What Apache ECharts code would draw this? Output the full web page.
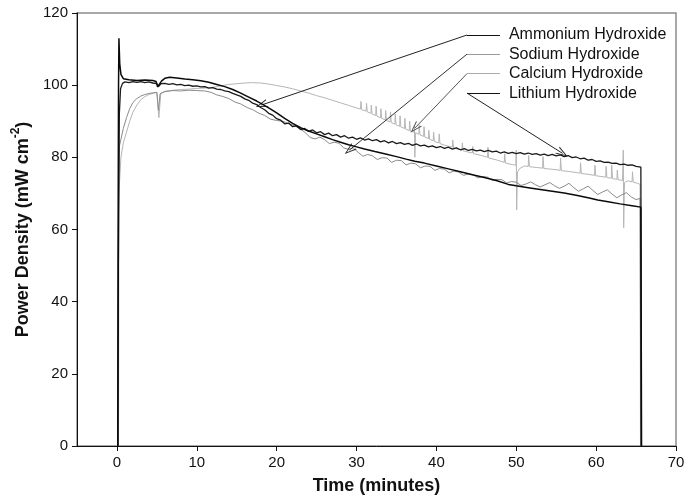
<!DOCTYPE html>
<html><head><meta charset="utf-8">
<script src="https://cdn.jsdelivr.net/npm/echarts@6/dist/echarts.min.js"></script>
<style>html,body{margin:0;padding:0;background:#fff}#c{width:691px;height:500px}</style>
</head><body><div id="c"></div>
<script>
// ---- data ([minutes, mW cm^-2]) ----
const xTicks = [0, 10, 20, 30, 40, 50, 60, 70];
const yTicks = [0, 20, 40, 60, 80, 100, 120];
const seriesNames = ['Ammonium Hydroxide', 'Sodium Hydroxide', 'Calcium Hydroxide', 'Lithium Hydroxide'];

const ammonium = [[0.10,0],[0.15,60],[0.2,100],[0.25,113],[0.35,106],[0.5,103],[0.8,101.8],[1.5,101.5],[2.5,101.3],[3.5,101.4],[4.5,101.3],[4.9,101],[5.1,99.5],[5.3,100.2],[5.6,101.2],[6.0,101.9],[6.6,102.2],[7.5,102],[8.5,101.7],[9.5,101.5],[10.5,101.2],[11.5,100.8],[12.5,100.2],[13.5,99.6],[14.5,98.8],[15.5,97.8],[16.5,96.7],[17.5,95.6],[18.3,94.6],[19.2,93.4],[20.0,92.3],[21.0,90.8],[22.0,89.4],[23.0,88.2],[24.0,87.3],[25.0,86.5],[26.0,85.7],[27.0,84.9],[28.0,84.2],[29.0,83.5],[30.0,82.9],[31.0,82.3],[32.3,81.6],[33.5,81],[35,80.2],[36.2,79.5],[37.3,78.9],[38.5,78.4],[40,77.6],[41.5,76.8],[43,76],[44.5,75.2],[46,74.4],[47.5,73.6],[49,72.5],[50,72.1],[51.5,71.6],[53,71.1],[54.5,70.6],[56,70.1],[57.5,69.5],[59,68.8],[60.2,68.2],[61.5,67.7],[63,67.1],[64.5,66.6],[65.6,66.2],[65.65,0]];

const lithium = [[0.12,0],[0.18,50],[0.3,92],[0.45,99],[0.7,100.5],[1,100.9],[1.5,100.7],[2,101],[2.5,100.8],[3,101],[3.5,100.7],[4,100.9],[4.5,100.6],[5,100.4],[5.2,99.6],[5.5,100.4],[6,100.5],[6.5,100.2],[7,100.4],[7.5,100.1],[8,100.2],[8.5,99.9],[9,100],[9.5,99.7],[10,99.8],[10.5,99.5],[11,99.6],[11.5,99.2],[12,99.3],[12.5,98.9],[13,98.8],[13.5,98.4],[14,98.2],[14.5,97.7],[15,97.3],[15.5,96.9],[16,96.2],[16.5,95.8],[17,95],[17.5,94.6],[18,93.8],[18.5,93.2],[19,92.2],[19.5,91.7],[20,90.7],[20.5,90.3],[21,89.3],[21.5,89.5],[22,88.5],[22.5,88.7],[23,87.7],[23.5,88],[24,87.2],[24.5,87.6],[25,86.8],[25.5,87.1],[26,86.3],[26.5,86.7],[27,86],[27.5,86.3],[28,85.6],[28.5,86],[29,85.3],[29.5,85.6],[30,85],[30.5,85.4],[31,84.8],[31.5,85.1],[32,84.6],[32.5,84.9],[33,84.3],[33.5,84.6],[34,84],[34.5,84.4],[35,83.8],[35.5,84.1],[36,83.6],[36.5,83.9],[37,83.3],[37.5,83.7],[38,83.2],[38.5,83.4],[39,82.9],[39.5,83.2],[40,82.7],[40.5,83],[41,82.5],[41.5,82.8],[42,82.3],[42.5,82.6],[43,82.1],[43.5,82.4],[44,81.9],[44.5,82.2],[45,81.8],[45.5,82],[46,81.6],[46.5,81.9],[47,81.5],[47.5,81.7],[48,81.2],[48.5,81.5],[49,81.1],[49.5,81.4],[50,81],[50.5,81.3],[51,80.9],[51.5,81.2],[52,80.8],[52.5,81],[53,80.6],[53.5,80.9],[54,80.5],[54.5,80.8],[55,80.4],[55.5,80.7],[56,80.2],[56.5,80.5],[57,79.9],[57.5,80.1],[58,79.6],[58.5,79.8],[59,79.2],[59.5,79.4],[60,78.9],[60.5,79],[61,78.6],[61.5,78.7],[62,78.3],[62.5,78.4],[63,78],[63.5,78.1],[64,77.8],[64.5,77.9],[65,77.5],[65.6,77.3],[65.7,0]];

const sodium = [[0.15,0],[0.2,70],[0.3,83],[0.5,85],[0.8,88],[1.2,91],[1.6,93.5],[2,95.2],[2.5,96.3],[3,97],[3.5,97.4],[4,97.7],[4.6,97.9],[5.0,98],[5.2,93],[5.4,97.6],[6,98.2],[7,98.5],[8,98.4],[9,98.6],[10,98.5],[11,98.4],[11.8,98],[12.5,97.3],[13.2,96.9],[14,96.3],[14.8,95.3],[15.5,94.8],[16.3,93.8],[17,93.2],[17.8,92.2],[18.5,91.6],[19.2,90.6],[20,90.2],[20.8,90],[21.5,89.3],[22.2,88.8],[23,87.8],[23.6,86.8],[24.2,85.5],[24.8,85.1],[25.4,85.6],[26,84.9],[26.6,83.8],[27.2,84.2],[27.8,83.9],[28.4,82.6],[29,82.2],[29.6,82.6],[30.2,81.4],[30.8,80.3],[31.4,80.8],[32,80.4],[32.6,79.4],[33.2,79.9],[33.8,79.8],[34.4,78.6],[35,79.2],[35.6,79.1],[36.2,77.9],[36.8,78.4],[37.4,78.2],[38,77.1],[38.6,77.6],[39.2,77.5],[39.8,76.4],[40.4,76.9],[41,76.7],[41.6,75.7],[42.2,76.2],[42.8,75.9],[43.4,75],[44,75.4],[44.6,75.2],[45.2,74.3],[45.8,74.7],[46.4,74.5],[47,73.6],[47.6,73.9],[48.2,73.8],[48.8,72.9],[49.4,73.3],[50,73.1],[50.6,72.2],[51.2,72.6],[51.8,73.2],[52.4,72.4],[53,71.8],[53.6,72.4],[54.2,73],[54.8,72.1],[55.4,71.4],[56,72],[56.6,72.8],[57.2,71.6],[57.8,70.6],[58.4,71.3],[59,72],[59.6,70.8],[60.2,69.7],[60.8,70.4],[61.4,71],[62,69.8],[62.6,68.8],[63.2,69.6],[63.8,70.2],[64.4,69],[65,68.3],[65.5,68.6],[65.6,0]];

const calcium = [[0.2,0],[0.25,65],[0.3,72],[0.5,80],[0.8,84],[1.2,87],[1.6,90],[2,92.5],[2.5,94.5],[3,96],[3.5,96.8],[4,97.4],[4.6,97.8],[5.0,98],[5.25,91],[5.5,97.8],[6,98.3],[7,98.6],[8,98.8],[9,98.9],[10,99.1],[11,99.2],[12,99.4],[13,99.8],[14,100.2],[15,100.4],[16,100.6],[17,100.7],[18,100.6],[19,100.3],[20,99.9],[21,99.5],[22,99],[23,98.4],[24,97.8],[25,97.1],[26,96.5],[27,95.8],[28,95.1],[29,94.4],[30,93.7],[30.5,93.4],[30.55,95.5],[30.65,93.2],[31.2,92.8],[31.25,95],[31.35,92.6],[31.8,92.2],[31.85,94.5],[31.95,92],[32.4,91.6],[32.45,94.2],[32.55,91.4],[33,91],[33.05,93.5],[33.15,90.8],[33.6,90.4],[33.65,93],[33.75,90.2],[34.2,89.8],[34.25,92.5],[34.35,89.6],[34.8,89.2],[34.85,92],[34.95,89],[35.4,88.6],[35.45,91.5],[35.55,88.4],[36,88],[36.05,90.8],[36.15,87.8],[36.6,87.4],[36.65,90],[36.75,87.2],[37.2,87],[37.25,88.8],[37.3,80],[37.4,86.8],[37.8,86.4],[37.85,89],[37.95,86.2],[38.4,85.8],[38.45,88.5],[38.55,85.6],[39,85.2],[39.05,87.5],[39.15,85],[39.6,84.6],[39.65,87],[39.75,84.4],[40.3,84],[40.35,86.5],[40.45,83.8],[41,83.4],[42,82.8],[42.05,84.8],[42.15,82.6],[43.2,82],[43.25,84],[43.35,81.8],[44.5,81.2],[44.55,83],[44.65,81],[45.5,80.6],[46.4,80],[46.45,82.8],[46.55,79.8],[47.5,79.3],[48.5,78.6],[48.55,81],[48.65,78.4],[49.5,78],[49.95,77.8],[50,82],[50.05,65.4],[50.15,76],[50.5,77],[51,77.6],[51.5,77.5],[51.55,80.5],[51.65,77.4],[52.5,77.2],[53.3,77],[53.35,80.2],[53.45,76.9],[54.5,76.7],[55.5,76.4],[55.55,79.8],[55.65,76.3],[56.5,76.1],[57.5,75.8],[58,75.6],[58.05,78.5],[58.15,75.5],[59,75.3],[59.8,75],[59.85,77.8],[59.95,74.9],[60.6,74.7],[61.2,74.5],[61.25,77.5],[61.35,74.4],[61.9,74.2],[61.95,77.8],[62.05,74.1],[62.6,73.9],[62.65,76.5],[62.75,73.8],[63.3,73.6],[63.4,82],[63.45,60.5],[63.55,73],[64,73.5],[64.5,73.2],[64.55,76],[64.65,73.1],[65.2,72.8],[65.5,72.5],[65.55,0]];

// label anchor (start of the short label rule) and arrow targets, in data units
const labelStartX = 43.83, labelEndX = 47.95;
const labelY = [113.9, 108.6, 103.2, 97.8];
const arrowTargets = [[18.1, 94.5], [29.1, 82.0], [37.3, 88.1], [55.8, 81.1]];
// -----------------------------------------------------------

const FONT = '"Liberation Sans", Arial, Helvetica, sans-serif';
const openArrow = 'path://M5,0 L10,12 L8.7,12 L5,2.8 L1.3,12 L0,12 Z';
const ruleColors = ['#111', '#9a9a9a', '#ababab', '#111'];
const arrowColors = ['#222', '#333', '#555', '#222'];

function annot(i) {
  return {
    silent: true, animation: false,
    symbol: ['none', 'none'],
    data: [
      [ {coord: [labelStartX, labelY[i]], lineStyle: {color: ruleColors[i], width: 1, type: 'solid'}},
        {coord: [labelEndX, labelY[i]],
         label: {show: true, position: 'end', distance: 9, formatter: seriesNames[i],
                 color: '#111', fontSize: 16, fontFamily: FONT}} ],
      [ {coord: [labelStartX, labelY[i]], lineStyle: {color: arrowColors[i], width: 1, type: 'solid'}},
        {coord: arrowTargets[i], symbol: openArrow, symbolSize: [8, 12], label: {show: false}} ]
    ]
  };
}

function line(name, data, color, width, z, idx) {
  return {
    name, type: 'line', data, showSymbol: false, symbol: 'none',
    lineStyle: {color, width}, itemStyle: {color},
    animation: false, z, sampling: null, clip: true,
    markLine: annot(idx)
  };
}

const chart = echarts.init(document.getElementById('c'), null, {renderer: 'canvas'});
chart.setOption({
  backgroundColor: '#fff',
  animation: false,
  textStyle: {fontFamily: FONT},
  grid: {left: 77, right: 15, top: 13, bottom: 54, show: true, borderColor: '#8c8c8c', borderWidth: 1.5, containLabel: false},
  xAxis: {
    type: 'value', min: -5, max: 70,
    name: 'Time (minutes)', nameLocation: 'middle', nameGap: 31,
    nameTextStyle: {fontSize: 18, fontWeight: 'bold', color: '#111', fontFamily: FONT},
    axisLine: {show: true, onZero: false, lineStyle: {color: '#111', width: 1}},
    axisTick: {show: true, length: 5, inside: false, customValues: xTicks, lineStyle: {color: '#111'}},
    axisLabel: {show: true, customValues: xTicks, fontSize: 15, color: '#111', margin: 9, fontFamily: FONT},
    splitLine: {show: false}
  },
  yAxis: {
    type: 'value', min: 0, max: 120, interval: 20,
    name: '{a|Power Density (mW cm}{s|-2}{a|)}', nameLocation: 'middle', nameGap: 37, nameRotate: 90,
    nameTextStyle: {
      color: '#111', fontFamily: FONT,
      rich: {
        a: {fontSize: 18, fontWeight: 'bold', color: '#111', fontFamily: FONT, lineHeight: 22, verticalAlign: 'bottom'},
        s: {fontSize: 12, fontWeight: 'bold', color: '#111', fontFamily: FONT, lineHeight: 22, verticalAlign: 'top'}
      }
    },
    axisLine: {show: true, onZero: false, lineStyle: {color: '#111', width: 1}},
    axisTick: {show: true, length: 5, inside: false, lineStyle: {color: '#111'}},
    axisLabel: {show: true, fontSize: 15, color: '#111', margin: 9, fontFamily: FONT},
    splitLine: {show: false}
  },
  series: [
    line(seriesNames[2], calcium, '#b5b5b5', 1, 2, 2),
    line(seriesNames[1], sodium, '#8a8a8a', 1, 3, 1),
    line(seriesNames[3], lithium, '#1a1a1a', 1.3, 4, 3),
    line(seriesNames[0], ammonium, '#0a0a0a', 1.5, 5, 0)
  ]
});
</script>
</body></html>
